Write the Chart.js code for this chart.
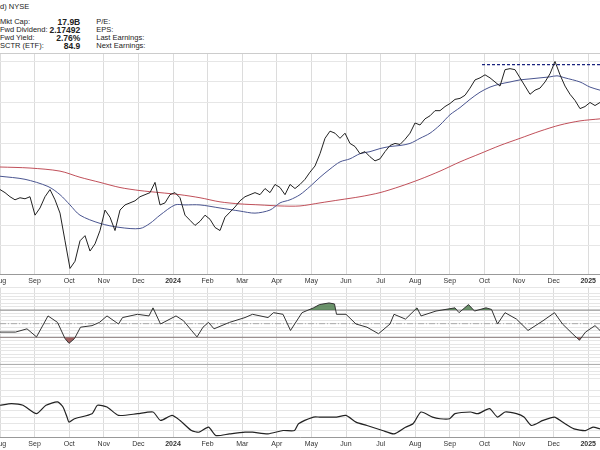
<!DOCTYPE html>
<html><head><meta charset="utf-8">
<script src="https://cdn.jsdelivr.net/npm/chart.js@4/dist/chart.umd.min.js"></script>
<style>
body{margin:0;background:#fff;width:600px;height:450px;overflow:hidden;font-family:"Liberation Sans",Arial,sans-serif}
.c{position:absolute;left:0;width:600px}
#hdr{position:absolute;left:0;top:0;width:600px;height:53px;background:#fff;border-bottom:1px solid #ccc;font-size:7.5px;color:#222;z-index:2}
#hdr .t{position:absolute;left:0;top:2px}
#hdr table{position:absolute;left:0;top:18px;border-collapse:collapse}
#hdr td{padding:0 2px 0 0;height:8px;line-height:8px}
#hdr td.v{text-align:right;font-weight:bold;font-size:8.5px;padding-right:16px}
</style></head><body>
<div id="hdr"><div class="t">d) NYSE</div>
<table>
<tr><td>Mkt Cap:</td><td class="v">17.9B</td><td>P/E:</td></tr>
<tr><td>Fwd Dividend:</td><td class="v">2.17492</td><td>EPS:</td></tr>
<tr><td>Fwd Yield:</td><td class="v">2.76%</td><td>Last Earnings:</td></tr>
<tr><td>SCTR (ETF):</td><td class="v">84.9</td><td>Next Earnings:</td></tr>
</table></div>
<div class="c" style="top:0;height:287px"><canvas id="p"></canvas></div>
<div class="c" style="top:287px;height:91px"><canvas id="r"></canvas></div>
<div class="c" style="top:378px;height:72px"><canvas id="b"></canvas></div>
<script>
const monthLabels=['Aug','Sep','Oct','Nov','Dec','2024','Feb','Mar','Apr','May','Jun','Jul','Aug','Sep','Oct','Nov','Dec','2025'];
const closes=[57.5,56,54,52.5,53.5,53,54,45,48.5,54,57.5,52.5,46,32.5,19,22.5,32.5,35,27.5,31,37.5,47.5,44,37.5,47.5,50,51,52,54,55,56,61,50,51,55,56,53.5,45,42.5,40,42,45,43,39,37.5,44,46.5,49,52,54,55,56,55,58,56,60,58.5,55,60,58,60,62.5,66,69,75,82.5,86,85,82.5,85,80,78.5,75,76,73.5,71.5,72.5,76,79,80,79.5,82,85,90,89,92,93.5,96,96,98,99.5,101.5,102,103.5,107,111,112,113.5,112,110,108,116,116.5,116,112,108,104,106,107,110,114,120,113.5,108,104,101,97,98,100,98.5,100];
const ma50=[[0,64],[5,62.5],[9.6,59],[12,55],[14,50],[16,45],[20,41],[24,39],[28,38.5],[30,41],[32,45],[35,50],[37,50],[40,50],[44,48.5],[48,47],[51,46],[54,47.5],[56,51],[58,52.5],[60,55],[62,59],[64,63.5],[66,67.5],[68,71],[70,72.5],[72,75],[74,76],[76,77.5],[78,78.5],[80,79],[82,80],[84,82.5],[86,85],[88,89],[90,94],[92,97.5],[94,101.5],[96,105],[98,107.5],[100,109],[102,110],[104,111],[106,111.5],[108,112],[110,112.5],[111.4,113],[113,112],[116,110],[118,107.5],[120,106]];
const ma200=[[0,68.5],[6,68],[12,66.5],[16,63.5],[20,61],[24,58.5],[28,57],[32,56],[36,55],[40,53.5],[44,51.5],[48,50.5],[52,50],[56,49.5],[60,49.5],[64,51],[68,52.5],[72,54],[76,56],[80,59],[84,62.5],[88,66.5],[92,71],[96,75],[100,79],[104,82.5],[108,86],[112,89],[116,91],[120,92]];
const resistance=[[96.4,118.5],[120,118.5]];
const rsi=[[0,37.6],[3.1,37.6],[5.4,42.4],[7.3,30.5],[9.6,61.4],[11.5,51.9],[13,28.1],[13.8,21],[14.9,28.1],[16.1,44.8],[18.4,47.1],[19.9,51.9],[21.4,61.4],[23.7,49.5],[24.5,59],[27.5,63.8],[29.8,61.4],[30.6,73.3],[32.1,49.5],[35.2,61.4],[36.7,54.3],[38.3,40],[39.4,30.5],[40.6,44.8],[41.7,51.9],[42.8,42.4],[45.9,51.9],[49,59],[50.5,63.8],[53.6,59],[54.7,66.2],[56.6,63.8],[58.1,40],[60.4,66.2],[62.7,73.3],[63.9,78.1],[65.8,80.5],[66.9,79],[67.3,63.8],[69.2,63.8],[71.2,49.5],[73.4,44.8],[75.7,35.2],[78,49.5],[78.8,63.8],[81.1,56.7],[83.4,73.3],[84.2,61.4],[87.2,68.6],[91,73.3],[91.8,66.2],[93.7,78.1],[94.9,68.6],[97.2,73.3],[98.3,71],[99.5,49.5],[101,66.2],[103.3,56.7],[105.6,40],[108.6,54.3],[110.9,66.2],[112.5,49.5],[114.8,33],[115.9,25.7],[117.1,37.6],[119,47.1],[120,40]];
const lower=[[0,13.5],[2.3,14],[4.6,13.5],[7.3,11],[9.2,13.5],[11.5,14.5],[12.6,13],[13.4,10],[13.8,8.5],[14.9,9.5],[18.4,11],[19.5,13.5],[21.4,13],[23.7,10.5],[27.5,11],[30.6,11.5],[32.1,9],[34.4,10.5],[36,9],[38.3,6],[39.8,5.5],[41.7,7],[43.2,4.5],[45.9,5],[49,5.5],[50.5,5.5],[53.6,5],[56.6,6],[58.9,6],[59.7,8],[62.7,10],[63.9,10],[67.3,10],[69.2,10.5],[71.2,8.5],[73.4,7.5],[76.5,6],[78.8,5],[81.1,7],[82.6,8],[84.2,11.5],[86.5,10],[88,9.5],[89.9,9.5],[91,11],[94.1,11.5],[95.6,11],[97.9,12.5],[99.5,10],[101,11.5],[103.3,11],[104.8,10],[106.3,7.5],[108.6,9],[110.9,10],[112.5,8.5],[114.8,6.5],[117.1,6],[118.6,7],[120,6.5]];
const MONTH_STEP=6.92;
const pts=a=>a.map(p=>({x:p[0],y:p[1]}));
function xAxis(show){return{type:'linear',min:0,max:120,
 afterBuildTicks:s=>{s.ticks=monthLabels.map((l,i)=>({value:i*MONTH_STEP}));},
 afterFit:s=>{s.paddingLeft=0;s.paddingRight=0;},
 ticks:{display:show,autoSkip:false,maxRotation:0,padding:2,color:'#333',
  font:c=>({size:7,weight:(c.tick&&/^\d/.test(monthLabels[Math.round(c.tick.value/MONTH_STEP)])?'bold':'normal')}),
  callback:v=>monthLabels[Math.round(v/MONTH_STEP)]},
 grid:{color:'#dcdcdc',drawTicks:false},border:{display:true,color:'#999'}};}
function yAxis(min,max,step){return{min,max,afterFit:s=>{s.width=0;},ticks:{display:false,stepSize:step},grid:{color:'#e6e6e6',drawTicks:false},border:{display:false}};}
const base={responsive:true,maintainAspectRatio:false,animation:false,layout:{padding:0},
 plugins:{legend:{display:false},tooltip:{enabled:false}},elements:{point:{radius:0}}};
new Chart(document.getElementById('p'),{type:'line',data:{datasets:[
 {data:closes.map((c,i)=>({x:i,y:c})),borderColor:'#222',borderWidth:1,tension:0},
 {data:pts(ma50),borderColor:'#4a5590',borderWidth:1,tension:0.3},
 {data:pts(ma200),borderColor:'#c0505a',borderWidth:1,tension:0.3},
 {data:pts(resistance),borderColor:'#1a237e',borderWidth:1.2,borderDash:[3,2]}
]},options:{...base,scales:{x:xAxis(true),y:yAxis(16,150,10)}}});
new Chart(document.getElementById('r'),{type:'line',data:{datasets:[
 {data:pts(rsi),borderColor:'#333',borderWidth:1,tension:0,fill:{target:{value:70},above:'rgba(70,120,70,0.8)',below:'rgba(0,0,0,0)'}},
 {data:pts(rsi),borderColor:'rgba(0,0,0,0)',borderWidth:0,tension:0,fill:{target:{value:30},above:'rgba(0,0,0,0)',below:'rgba(140,60,60,0.8)'}},
 {data:[{x:0,y:70},{x:120,y:70}],borderColor:'#888',borderWidth:1},
 {data:[{x:0,y:30},{x:120,y:30}],borderColor:'#888',borderWidth:1},
 {data:[{x:0,y:50},{x:120,y:50}],borderColor:'#aaa',borderWidth:1,borderDash:[6,2,1,2]},
 {data:[{x:0,y:-10},{x:120,y:-10}],borderColor:'#aaa',borderWidth:1}
]},options:{...base,scales:{x:xAxis(false),y:yAxis(-30,104,5)}}});
new Chart(document.getElementById('b'),{type:'line',data:{datasets:[
 {data:pts(lower),borderColor:'#222',borderWidth:1.2,tension:0.2}
]},options:{...base,scales:{x:xAxis(true),y:yAxis(3.9,21.6,2)}}});
</script></body></html>
